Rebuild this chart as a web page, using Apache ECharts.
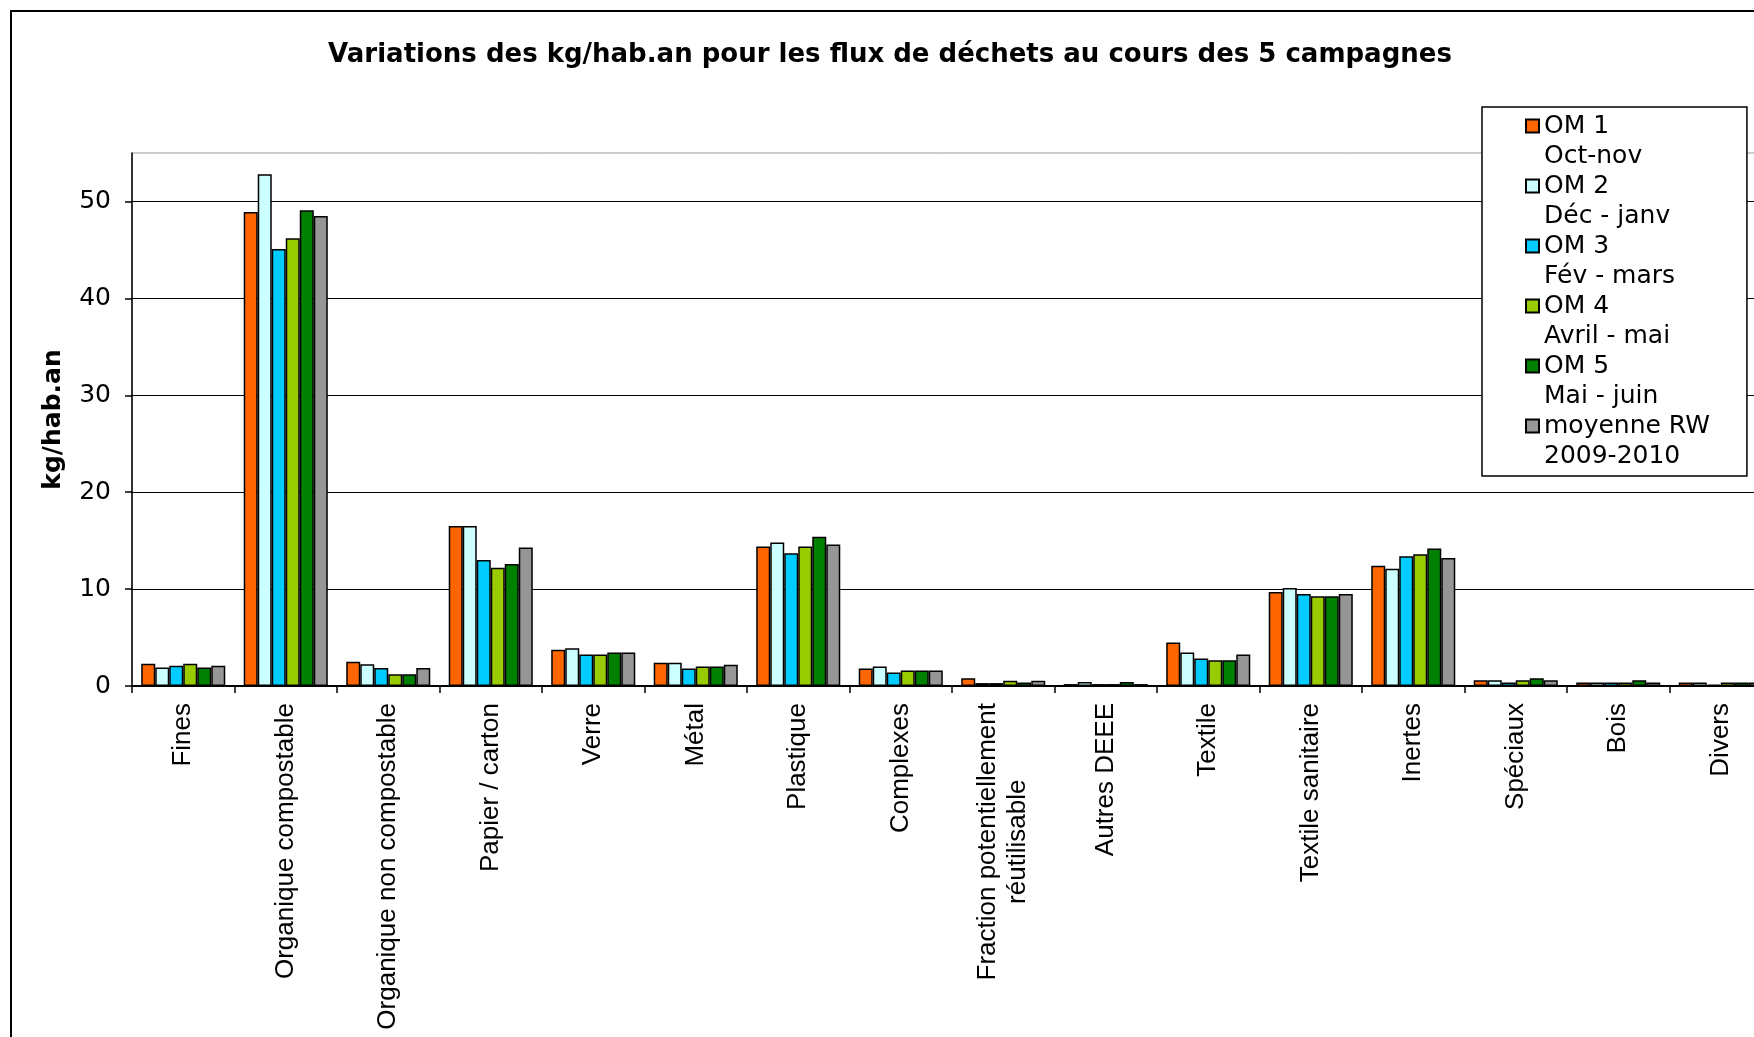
<!DOCTYPE html>
<html>
<head>
<meta charset="utf-8">
<script src="https://cdn.jsdelivr.net/npm/echarts@6/dist/echarts.min.js"></script>
<style>
html,body{margin:0;padding:0;background:#fff;}
#chart{width:1754px;height:1037px;}
</style>
</head>
<body>
<div id="chart"></div>
<script>
const categories = ['Fines', 'Organique compostable', 'Organique non compostable', 'Papier / carton', 'Verre', 'Métal', 'Plastique', 'Complexes', 'Fraction potentiellement\nréutilisable', 'Autres DEEE', 'Textile', 'Textile sanitaire', 'Inertes', 'Spéciaux', 'Bois', 'Divers'];
const seriesNames = ['OM 1\nOct-nov', 'OM 2\nDéc - janv', 'OM 3\nFév - mars', 'OM 4\nAvril - mai', 'OM 5\nMai - juin', 'moyenne RW\n2009-2010'];
const om1 = [2.3, 48.9, 2.5, 16.5, 3.75, 2.4, 14.4, 1.8, 0.8, 0.2, 4.5, 9.7, 12.4, 0.6, 0.35, 0.35];
const om2 = [1.9, 52.8, 2.25, 16.5, 3.9, 2.4, 14.8, 2.0, 0.3, 0.4, 3.45, 10.1, 12.1, 0.6, 0.35, 0.35];
const om3 = [2.1, 45.1, 1.85, 13.0, 3.25, 1.8, 13.7, 1.4, 0.3, 0.2, 2.85, 9.5, 13.4, 0.35, 0.35, 0.15];
const om4 = [2.3, 46.2, 1.2, 12.2, 3.25, 2.0, 14.4, 1.6, 0.55, 0.2, 2.65, 9.25, 13.6, 0.6, 0.35, 0.35];
const om5 = [1.9, 49.1, 1.2, 12.6, 3.45, 2.0, 15.4, 1.6, 0.35, 0.4, 2.65, 9.25, 14.2, 0.8, 0.6, 0.35];
const moyenne = [2.1, 48.5, 1.85, 14.3, 3.45, 2.2, 14.6, 1.6, 0.55, 0.2, 3.25, 9.5, 13.2, 0.6, 0.35, 0.35];
const yTicks = [0, 10, 20, 30, 40, 50];
const colors = ['#FF6600', '#CCFFFF', '#00CCFF', '#99CC00', '#008000', '#969696'];

const seriesData = [om1, om2, om3, om4, om5, moyenne];

const chart = echarts.init(document.getElementById('chart'));
const option = {
  backgroundColor: '#ffffff',
  animation: false,
  title: {
    text: 'Variations des kg/hab.an pour les flux de déchets au cours des 5 campagnes',
    left: 890,
    top: 42,
    textAlign: 'center',
    padding: 0,
    textStyle: { fontFamily: 'DejaVu Sans', fontWeight: 'bold', fontSize: 26, color: '#000' }
  },
  graphic: [{
    type: 'rect', silent: true, z: -10,
    shape: { x: 11, y: 11, width: 2000, height: 2000 },
    style: { fill: 'none', stroke: '#000', lineWidth: 2 }
  }],
  legend: {
    orient: 'vertical',
    left: 1482,
    top: 107,
    padding: [4, 37, 5, 43],
    itemWidth: 13,
    itemHeight: 43,
    itemGap: 0,
    icon: 'path://M0,0L13,0L13,13L0,13ZM0,43',
    borderColor: '#000',
    borderWidth: 1.5,
    backgroundColor: '#fff',
    textStyle: { fontFamily: 'DejaVu Sans', fontSize: 25, color: '#000', lineHeight: 30 },
    data: seriesNames
  },
  grid: {
    left: 132, top: 153, width: 1640, bottom: 351,
    outerBoundsMode: 'none',
    containLabel: false,
    show: true, borderColor: '#999', borderWidth: 1, backgroundColor: 'transparent'
  },
  xAxis: {
    type: 'category',
    data: categories,
    boundaryGap: true,
    axisLine: { lineStyle: { color: '#000', width: 2 } },
    axisTick: { show: true, interval: 0, length: 7, lineStyle: { color: '#000', width: 1.5 } },
    axisLabel: {
      interval: 0, rotate: 90, margin: 17,
      color: '#000', fontFamily: 'Liberation Sans', fontSize: 26,
      formatter: function (v) {
        return v.split('\n').map(function (s) { return '{c|' + s + '}'; }).join('\n');
      },
      rich: { c: { fontFamily: 'Liberation Sans', fontSize: 26, lineHeight: 30, align: 'center', color: '#000' } }
    },
    splitLine: { show: false }
  },
  yAxis: {
    type: 'value',
    min: 0, max: 55, interval: 10,
    name: 'kg/hab.an',
    nameLocation: 'middle',
    nameRotate: 90,
    nameGap: 66,
    nameTextStyle: { fontFamily: 'DejaVu Sans', fontWeight: 'bold', fontSize: 25, color: '#000' },
    axisLine: { show: true, lineStyle: { color: '#000', width: 1.5 } },
    axisTick: { show: true, length: 7, lineStyle: { color: '#000', width: 1.5 }, customValues: yTicks },
    axisLabel: { color: '#000', fontFamily: 'DejaVu Sans', fontSize: 25, margin: 21, customValues: yTicks },
    splitLine: { show: true, lineStyle: { color: ['#000', '#000', '#000', '#000', '#000', '#000', '#999'], width: 1.2 } }
  },
  series: seriesNames.map(function (name, i) {
    return {
      name: name,
      type: 'bar',
      data: seriesData[i],
      barGap: '0%',
      barCategoryGap: '18%',
      itemStyle: { color: colors[i], borderColor: '#000', borderWidth: 1.5 },
      emphasis: { disabled: true }
    };
  })
};
chart.setOption(option);
</script>
</body>
</html>
